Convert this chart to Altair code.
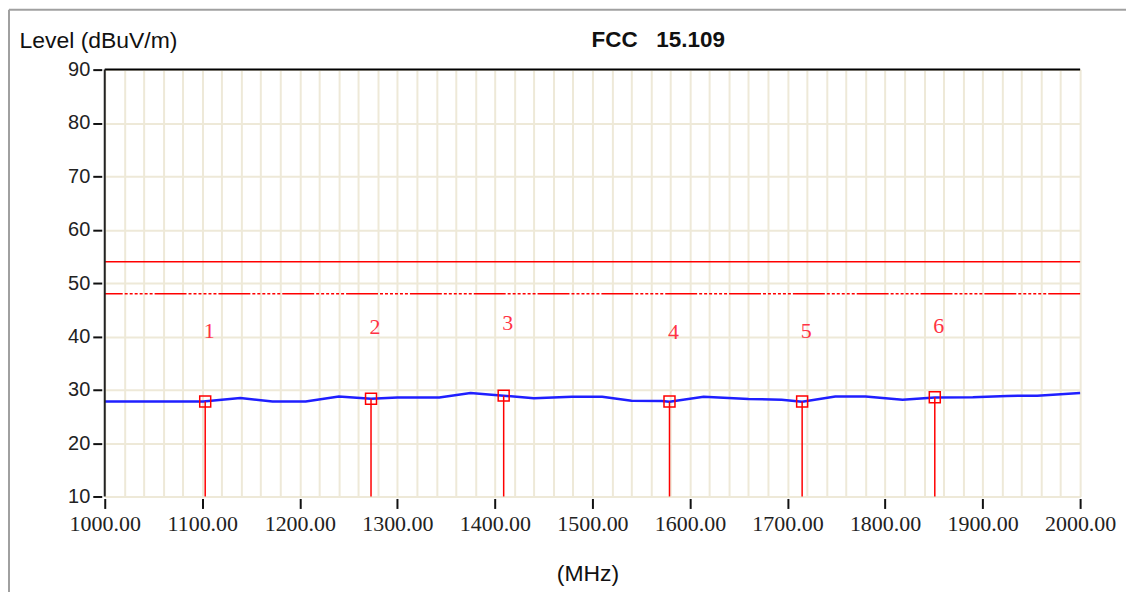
import altair as alt
import pandas as pd

# ---- data ----
trace_freq = [1000, 1067, 1101, 1139, 1172, 1206, 1240, 1273, 1300, 1343, 1375, 1409,
              1440, 1479, 1510, 1540, 1571, 1579, 1614, 1660, 1694, 1715, 1749, 1780,
              1818, 1851, 1890, 1925, 1956, 2000]
trace_level = [27.8, 27.8, 27.8, 28.45, 27.8, 27.8, 28.75, 28.3, 28.56, 28.56, 29.38, 28.88,
               28.4, 28.69, 28.69, 27.94, 27.9, 27.76, 28.69, 28.26, 28.13, 27.76, 28.75, 28.75,
               28.13, 28.56, 28.6, 28.85, 28.88, 29.38]

marker_no = ["1", "2", "3", "4", "5", "6"]
marker_freq = [1103, 1273, 1409, 1579, 1715, 1851]
marker_level = [27.8, 28.3, 28.9, 27.8, 27.8, 28.6]
marker_label_level = [41.0, 41.8, 42.5, 40.8, 41.0, 42.0]

limit_solid = 54
limit_dashed = 48

x_grid_values = list(range(1000, 2001, 20))
y_tick_values = list(range(10, 91, 10))
x_min, x_max = 1000, 2000
y_min, y_max = 10, 90

trace = pd.DataFrame({"freq": trace_freq, "level": trace_level})
markers = pd.DataFrame({"no": marker_no, "freq": marker_freq, "level": marker_level,
                        "label_level": marker_label_level, "floor": [y_min] * len(marker_no)})
limits = pd.DataFrame({"limit": [limit_solid]})
limits2 = pd.DataFrame({"limit": [limit_dashed]})
frame_df = pd.DataFrame({"k": [0]})

x_axis = alt.Axis(
    values=x_grid_values, tickCount=len(x_grid_values) + 5,
    grid=True, gridColor="#EEE9D8", gridWidth=2,
    domain=False, offset=2,
    tickSize=10, tickWidth=2, tickColor="#111",
    tickOpacity={"condition": {"test": "datum.value % 100 === 0", "value": 1}, "value": 0},
    labelExpr="datum.value % 100 === 0 ? format(datum.value, '.2f') : ''",
    labelOverlap=False, labelFont="Liberation Serif", labelFontSize=22,
    labelColor="#222", labelPadding=5, labelFlush=False,
    title="(MHz)", titleFont="Liberation Sans", titleFontSize=23,
    titleFontWeight="normal", titleColor="#111", titleBaseline="middle",
    titleX=484, titleY=75,
)
y_axis = alt.Axis(
    values=y_tick_values, tickCount=len(y_tick_values) + 2,
    grid=True, gridColor="#EEE9D8", gridWidth=2,
    domain=False, offset=3,
    tickSize=9, tickWidth=2, tickColor="#111",
    labelFont="Liberation Sans", labelFontSize=20, labelColor="#222", labelPadding=3,
    title="Level (dBuV/m)", titleFont="Liberation Sans", titleFontSize=23,
    titleFontWeight="normal", titleColor="#111", titleAngle=0, titleAlign="left",
    titleBaseline="alphabetic", titleX=-83, titleY=-22,
)

X = alt.X("freq:Q", scale=alt.Scale(domain=[x_min, x_max], nice=False, zero=False), axis=x_axis)
Y = alt.Y("level:Q", scale=alt.Scale(domain=[y_min, y_max], nice=False, zero=False), axis=y_axis)

line = alt.Chart(trace).mark_line(color="#1f1fff", strokeWidth=2.5).encode(x=X, y=Y)

solid = alt.Chart(limits).mark_rule(color="#ff0000", strokeWidth=1.5).encode(
    y=alt.Y("limit:Q"))
dashed = alt.Chart(limits2).mark_rule(
    color="#ff0000", strokeWidth=1.5,
    strokeDash=[32, 2, 3, 2, 3, 2, 3, 2, 3, 2, 3, 2, 3, 2]).encode(y=alt.Y("limit:Q"))

stems = alt.Chart(markers).mark_rule(color="#ff0000", strokeWidth=1.5).encode(
    x=alt.X("freq:Q"), y=alt.Y("level:Q"), y2=alt.Y2("floor:Q"))
boxes = alt.Chart(markers).mark_point(
    shape="square", size=121, filled=False, color="#ff0000", strokeWidth=1.5, opacity=1
).encode(x=alt.X("freq:Q"), y=alt.Y("level:Q"))
labels = alt.Chart(markers).mark_text(
    color="#ff3344", font="Liberation Serif", fontSize=22, dx=4, baseline="middle"
).encode(x=alt.X("freq:Q"), y=alt.Y("label_level:Q"), text="no:N")

top_edge = alt.Chart(frame_df).mark_rule(color="#000", strokeWidth=2).encode(
    y=alt.datum(y_max))
left_edge = alt.Chart(frame_df).mark_rule(color="#222", strokeWidth=2).encode(
    x=alt.datum(x_min))

# decorative outer panel border (top and left sides only, as in the reference)
outer_top = alt.Chart(frame_df).mark_rule(color="#a0a0a0", strokeWidth=2, clip=False).encode(
    x=alt.value(-96), x2=alt.value(1300), y=alt.value(-60))
outer_left = alt.Chart(frame_df).mark_rule(color="#a0a0a0", strokeWidth=2, clip=False).encode(
    x=alt.value(-96), y=alt.value(-60), y2=alt.value(800))

chart = alt.layer(
    line, solid, dashed, stems, boxes, labels, top_edge, left_edge, outer_top, outer_left
).properties(
    width=978, height=428,
    title=alt.TitleParams(
        text="FCC \u00a0 15.109", font="Liberation Sans", fontSize=22.5, fontWeight="bold",
        color="#111", anchor="middle", dx=66, offset=17, dy=60,
    ),
    autosize=alt.AutoSizeParams(type="none"),
    padding={"left": 97, "top": 61, "right": 46, "bottom": 95},
).configure_view(
    stroke="#9a9a9a", strokeWidth=2
).configure(background="white")

chart.save("out.html", embed_options={"renderer": "svg", "actions": False})
